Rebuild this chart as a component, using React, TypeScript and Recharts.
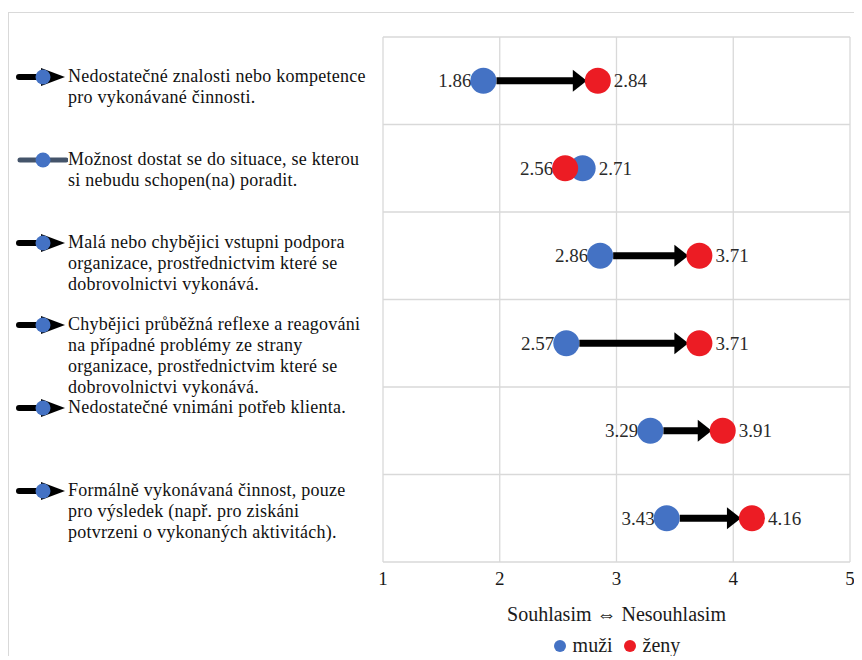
import { ScatterChart, Scatter, XAxis, YAxis, CartesianGrid, ReferenceLine, Legend } from "recharts";

// Statements shown in the left-hand legend, one array of wrapped lines per row.
const CATEGORIES: string[][] = [
  ["Nedostatečné znalosti nebo kompetence", "pro vykonávané činnosti."],
  ["Možnost dostat se do situace, se kterou", "si nebudu schopen(na) poradit."],
  ["Malá nebo chybějici vstupni podpora", "organizace, prostřednictvim které se", "dobrovolnictvi vykonává."],
  [
    "Chybějici průběžná reflexe a reagováni",
    "na případné problémy ze strany",
    "organizace, prostřednictvim které se",
    "dobrovolnictvi vykonává.",
  ],
  ["Nedostatečné vnimáni potřeb klienta."],
  ["Formálně vykonávaná činnost, pouze", "pro výsledek (např. pro ziskáni", "potvrzeni o vykonaných aktivitách)."],
];

// Mean answers (1 = souhlasím, 5 = nesouhlasím).
const MUZI = [1.86, 2.71, 2.86, 2.57, 3.29, 3.43];
const ZENY = [2.84, 2.56, 3.71, 3.71, 3.91, 4.16];

const X_TICKS = [1, 2, 3, 4, 5];
const ROW_EDGES = [0, 1, 2, 3, 4, 5, 6];

const BLUE = "#4472c4";
const RED = "#ec1c24";
const FONT = "Liberation Serif, DejaVu Serif, serif";
const R = 13;

type Point = { x: number; y: number; side: "left" | "right" };

const muziPoints: Point[] = MUZI.map((v, i) => ({ x: v, y: i + 0.5, side: v <= ZENY[i] ? "left" : "right" }));
const zenyPoints: Point[] = ZENY.map((v, i) => ({ x: v, y: i + 0.5, side: v >= MUZI[i] ? "right" : "left" }));

// Dot with its value label; label goes on the outer side of the pair.
function makeDot(color: string) {
  return (props: any) => {
    const { cx, cy, payload } = props;
    const left = payload.side === "left";
    return (
      <g>
        <text
          x={left ? cx - R + 1 : cx + R + 3}
          y={cy}
          dy="0.35em"
          textAnchor={left ? "end" : "start"}
          style={{ fontFamily: FONT, fontSize: 19 }}
          fill="#2a2a2a"
        >
          {payload.x.toFixed(2)}
        </text>
        <circle cx={cx} cy={cy} r={R} fill={color} />
      </g>
    );
  };
}

// Black arrow from the muži dot to the ženy dot, tip at the edge of the red dot.
function Arrow(props: any) {
  const { x1, y1, x2 } = props;
  const dir = x2 >= x1 ? 1 : -1;
  if (Math.abs(x2 - x1) < 2 * R + 14) return <g />;
  const start = x1 + dir * R;
  const tip = x2 - dir * R + dir * 2;
  const headLen = 14;
  const half = 11;
  const base = tip - dir * headLen;
  return (
    <g>
      <line x1={start} y1={y1} x2={base + dir} y2={y1} stroke="#000" strokeWidth={7} />
      <polygon points={`${base},${y1 - half} ${tip},${y1} ${base},${y1 + half}`} fill="#000" />
    </g>
  );
}

function BottomLegend() {
  return (
    <div style={{ display: "flex", justifyContent: "center", alignItems: "center", fontFamily: FONT, fontSize: 20, color: "#1a1a1a" }}>
      <svg width={14} height={14} style={{ marginRight: 6 }}>
        <circle cx={7} cy={7} r={6} fill={BLUE} />
      </svg>
      <span style={{ marginRight: 10 }}>muži</span>
      <svg width={14} height={14} style={{ marginRight: 6 }}>
        <circle cx={7} cy={7} r={6} fill={RED} />
      </svg>
      <span>ženy</span>
    </div>
  );
}

function LegendIcon({ index }: { index: number }) {
  // muži > ženy in this row, so the arrow hides behind the dots
  if (MUZI[index] > ZENY[index]) {
    return (
      <svg width={52} height={22} style={{ flexShrink: 0 }}>
        <line x1={4} y1={11} x2={50} y2={11} stroke="#44546a" strokeWidth={5} strokeLinecap="round" />
        <circle cx={27} cy={11} r={7.5} fill={BLUE} />
      </svg>
    );
  }
  return (
    <svg width={52} height={22} style={{ flexShrink: 0 }}>
      <line x1={3} y1={11} x2={30} y2={11} stroke="#000" strokeWidth={6} strokeLinecap="round" />
      <polygon points="25,2 49,11 25,20" fill="#000" />
      <circle cx={27} cy={11} r={7.5} fill={BLUE} />
    </svg>
  );
}

export default function App() {
  return (
    <div style={{ position: "relative", width: 854, height: 648 }}>
      <div
        style={{
          position: "absolute",
          left: 0,
          top: 4,
          width: 854,
          height: 644,
          borderLeft: "1px solid #d9d9d9",
          borderTop: "1px solid #d9d9d9",
          boxSizing: "border-box",
        }}
      />
      {CATEGORIES.map((lines, i) => (
        <div key={i} style={{ position: "absolute", left: 8, top: 58 + i * 82.8, display: "flex", alignItems: "flex-start" }}>
          <LegendIcon index={i} />
          <div
            style={{
              fontFamily: FONT,
              fontSize: 18,
              lineHeight: "21px",
              letterSpacing: 0.25,
              color: "#111",
              whiteSpace: "nowrap",
            }}
          >
            {lines.map((l, j) => (
              <div key={j}>{l}</div>
            ))}
          </div>
        </div>
      ))}
      <div style={{ position: "absolute", left: 0, top: 0 }}>
        <ScatterChart width={854} height={648} margin={{ top: 29, right: 12, bottom: 0, left: 375 }}>
          <CartesianGrid stroke="#d9d9d9" strokeWidth={1.3} />
          <XAxis
            type="number"
            dataKey="x"
            domain={[1, 5]}
            ticks={X_TICKS}
            axisLine={false}
            tickLine={false}
            tickMargin={4}
            height={72}
            tick={{ style: { fontFamily: FONT, fontSize: 19 }, fill: "#1a1a1a" }}
            label={{
              value: "Souhlasim ⇔ Nesouhlasim",
              position: "insideBottom",
              offset: 13,
              style: { fontFamily: FONT, fontSize: 20, fill: "#1a1a1a" },
            }}
          />
          <YAxis type="number" dataKey="y" domain={[0, 6]} ticks={ROW_EDGES} reversed hide />
          {MUZI.map((m, i) => (
            <ReferenceLine
              key={i}
              segment={[
                { x: m, y: i + 0.5 },
                { x: ZENY[i], y: i + 0.5 },
              ]}
              shape={Arrow}
            />
          ))}
          <Scatter name="muži" data={muziPoints} fill={BLUE} shape={makeDot(BLUE)} isAnimationActive={false} />
          <Scatter name="ženy" data={zenyPoints} fill={RED} shape={makeDot(RED)} isAnimationActive={false} />
          <Legend verticalAlign="bottom" height={22} content={() => <BottomLegend />} />
        </ScatterChart>
      </div>
    </div>
  );
}
